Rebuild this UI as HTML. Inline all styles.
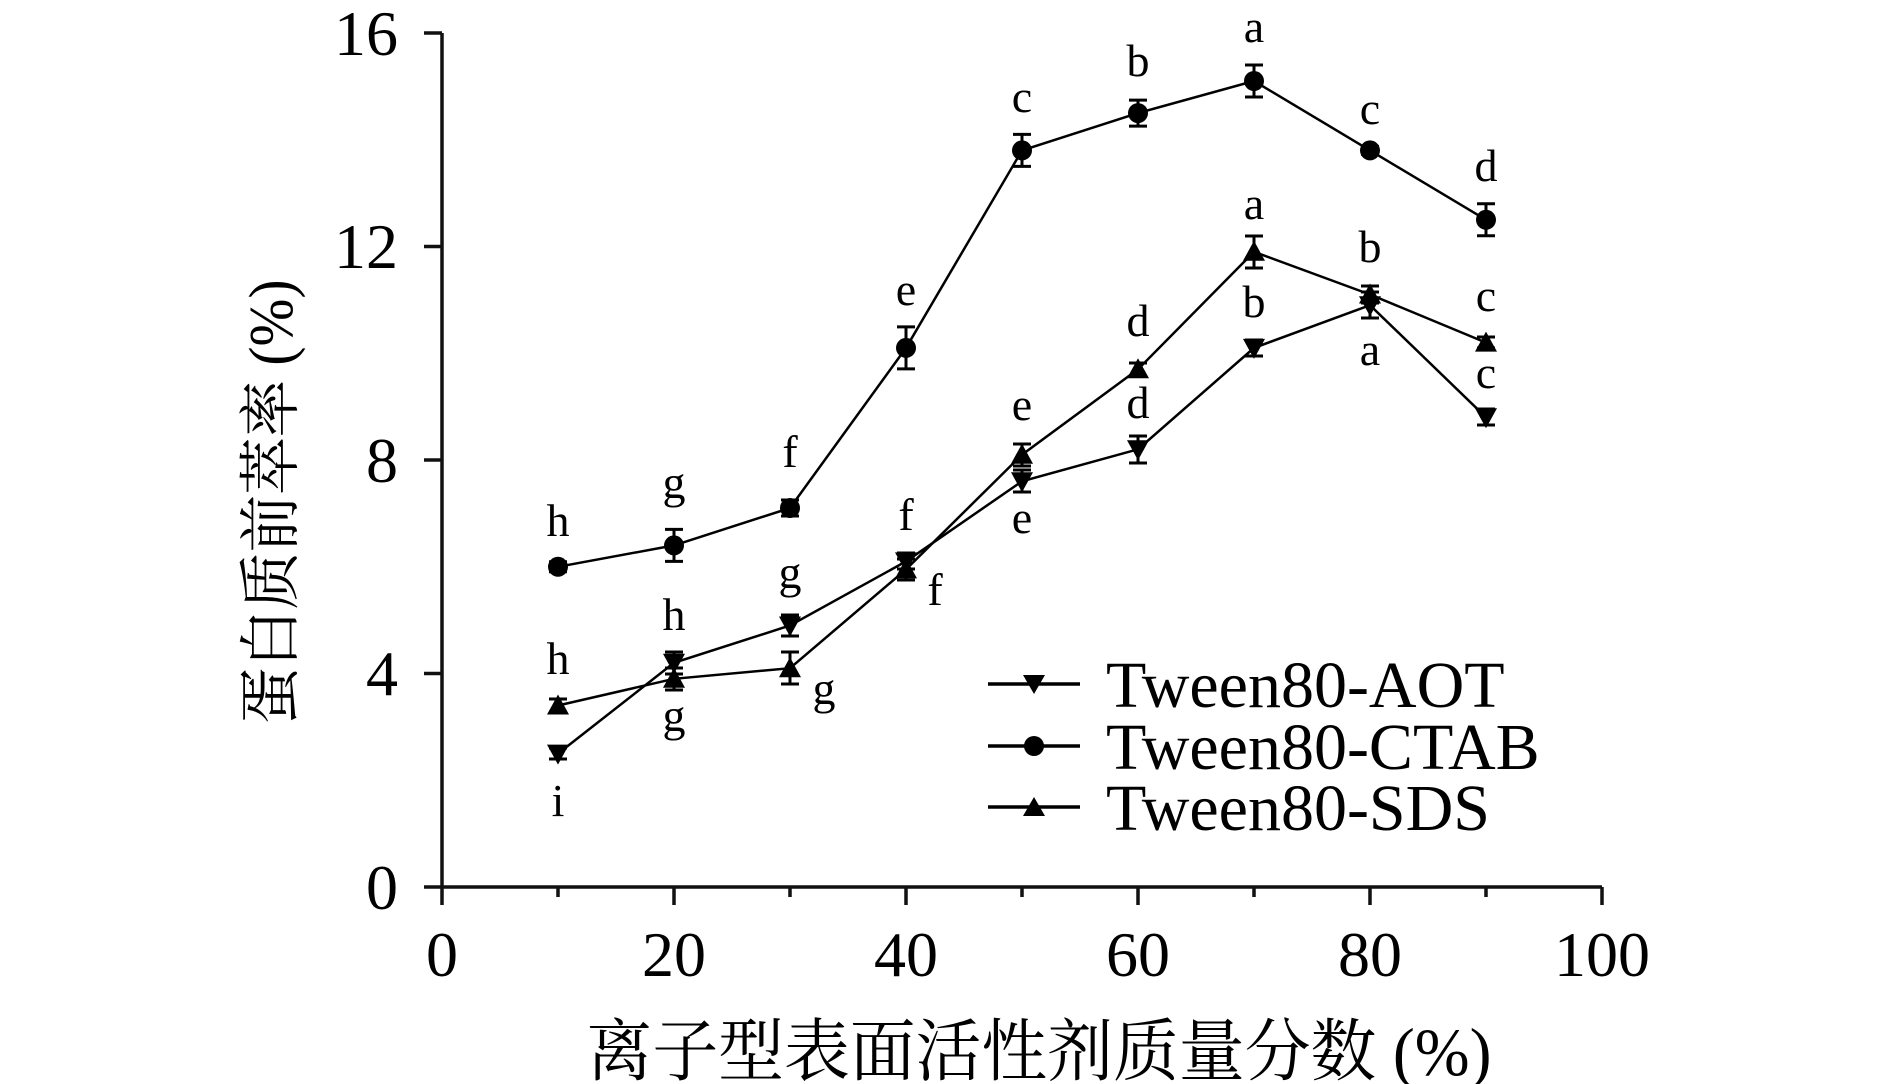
<!DOCTYPE html>
<html><head><meta charset="utf-8"><style>html,body{margin:0;padding:0;background:#fff}svg{display:block}</style></head>
<body>
<svg width="1890" height="1084" viewBox="0 0 1890 1084" xmlns="http://www.w3.org/2000/svg" font-family="'Liberation Serif','Noto Serif CJK SC',serif" fill="#000">
<g stroke="#111" stroke-width="3.5" fill="none">
<line x1="442" y1="33" x2="442" y2="905"/>
<line x1="424" y1="887" x2="1602" y2="887"/>
<line x1="424" y1="33" x2="442" y2="33"/>
<line x1="424" y1="246.5" x2="442" y2="246.5"/>
<line x1="424" y1="460" x2="442" y2="460"/>
<line x1="424" y1="673.5" x2="442" y2="673.5"/>
<line x1="674" y1="887" x2="674" y2="905"/>
<line x1="906" y1="887" x2="906" y2="905"/>
<line x1="1138" y1="887" x2="1138" y2="905"/>
<line x1="1370" y1="887" x2="1370" y2="905"/>
<line x1="1602" y1="887" x2="1602" y2="905"/>
<line x1="558" y1="887" x2="558" y2="897"/>
<line x1="790" y1="887" x2="790" y2="897"/>
<line x1="1022" y1="887" x2="1022" y2="897"/>
<line x1="1254" y1="887" x2="1254" y2="897"/>
<line x1="1486" y1="887" x2="1486" y2="897"/>
</g>
<g font-size="64" text-anchor="end">
<text x="398" y="55">16</text>
<text x="398" y="268">12</text>
<text x="398" y="482">8</text>
<text x="398" y="695">4</text>
<text x="398" y="909">0</text>
</g>
<g font-size="64" text-anchor="middle">
<text x="442" y="976">0</text>
<text x="674" y="976">20</text>
<text x="906" y="976">40</text>
<text x="1138" y="976">60</text>
<text x="1370" y="976">80</text>
<text x="1602" y="976">100</text>
</g>
<text x="1039" y="1075" font-size="68" text-anchor="middle" textLength="905" lengthAdjust="spacingAndGlyphs">离子型表面活性剂质量分数 (%)</text>
<text transform="translate(292,502) rotate(-90)" font-size="62" text-anchor="middle" textLength="445" lengthAdjust="spacingAndGlyphs">蛋白质前萃率 (%)</text>

<g stroke="#000" stroke-width="2.5" fill="none">
<polyline points="558,566.8 674,545.4 790,508 906,347.9 1022,150.4 1138,113.1 1254,81 1370,150.4 1486,219.8"/>
<polyline points="558,705.5 674,678.8 790,668.2 906,569.4 1022,454.7 1138,369.3 1254,251.8 1370,294.5 1486,342.6"/>
<polyline points="558,753.6 674,662.8 790,625.5 906,561.4 1022,481.3 1138,449.3 1254,347.9 1370,305.2 1486,417.3"/>
</g>
<g stroke="#000" stroke-width="3" fill="none">
<path d="M558,561.8V571.8M549,561.8H567M549,571.8H567
M674,529.4V561.4M665,529.4H683M665,561.4H683
M790,500V516M781,500H799M781,516H799
M906,326.9V368.9M897,326.9H915M897,368.9H915
M1022,134.4V166.4M1013,134.4H1031M1013,166.4H1031
M1138,100.1V126.1M1129,100.1H1147M1129,126.1H1147
M1254,65V97M1245,65H1263M1245,97H1263
M1370,146.4V154.4M1361,146.4H1379M1361,154.4H1379
M1486,203.8V235.8M1477,203.8H1495M1477,235.8H1495"/>
<path d="M558,699V712M549,699H567M549,712H567
M674,668V690M665,668H683M665,690H683
M790,652V684M781,652H799M781,684H799
M906,559V580M897,559H915M897,580H915
M1022,444V466M1013,444H1031M1013,466H1031
M1138,363V376M1129,363H1147M1129,376H1147
M1254,236V268M1245,236H1263M1245,268H1263
M1370,286V303M1361,286H1379M1361,303H1379
M1486,337V348M1477,337H1495M1477,348H1495"/>
<path d="M558,748V759M549,748H567M549,759H567
M674,652V674M665,652H683M665,674H683
M790,615V636M781,615H799M781,636H799
M906,553V569M897,553H915M897,569H915
M1022,470V492M1013,470H1031M1013,492H1031
M1138,436V463M1129,436H1147M1129,463H1147
M1254,340V356M1245,340H1263M1245,356H1263
M1370,292V318M1361,292H1379M1361,318H1379
M1486,409V425M1477,409H1495M1477,425H1495"/>
</g>
<g>
<circle cx="558" cy="566.8" r="10"/><circle cx="674" cy="545.4" r="10"/><circle cx="790" cy="508" r="10"/><circle cx="906" cy="347.9" r="10"/><circle cx="1022" cy="150.4" r="10"/><circle cx="1138" cy="113.1" r="10"/><circle cx="1254" cy="81" r="10"/><circle cx="1370" cy="150.4" r="10"/><circle cx="1486" cy="219.8" r="10"/>
<polygon points="558,694.5 547,714.5 569,714.5"/><polygon points="674,667.8 663,687.8 685,687.8"/><polygon points="790,657.2 779,677.2 801,677.2"/><polygon points="906,558.4 895,578.4 917,578.4"/><polygon points="1022,443.7 1011,463.7 1033,463.7"/><polygon points="1138,358.3 1127,378.3 1149,378.3"/><polygon points="1254,240.8 1243,260.8 1265,260.8"/><polygon points="1370,283.5 1359,303.5 1381,303.5"/><polygon points="1486,331.6 1475,351.6 1497,351.6"/>
<polygon points="558,764.6 547,744.6 569,744.6"/><polygon points="674,673.8 663,653.8 685,653.8"/><polygon points="790,636.5 779,616.5 801,616.5"/><polygon points="906,572.4 895,552.4 917,552.4"/><polygon points="1022,492.3 1011,472.3 1033,472.3"/><polygon points="1138,460.3 1127,440.3 1149,440.3"/><polygon points="1254,358.9 1243,338.9 1265,338.9"/><polygon points="1370,316.2 1359,296.2 1381,296.2"/><polygon points="1486,428.3 1475,408.3 1497,408.3"/>
</g>
<g font-size="46" text-anchor="middle">
<text x="558" y="536">h</text><text x="674" y="498">g</text><text x="790" y="467">f</text><text x="906" y="305">e</text><text x="1022" y="112">c</text><text x="1138" y="76">b</text><text x="1254" y="42">a</text><text x="1370" y="124">c</text><text x="1486" y="181">d</text>
<text x="558" y="674">h</text><text x="674" y="630">h</text><text x="790" y="588">g</text><text x="906" y="530">f</text><text x="1022" y="420">e</text><text x="1138" y="336">d</text><text x="1254" y="219">a</text><text x="1370" y="262">b</text><text x="1486" y="311">c</text>
<text x="558" y="816">i</text><text x="674" y="731">g</text><text x="824" y="704">g</text><text x="935" y="605">f</text><text x="1022" y="533">e</text><text x="1138" y="418">d</text><text x="1254" y="317">b</text><text x="1370" y="365">a</text><text x="1486" y="388">c</text>
</g>
<g stroke="#000" stroke-width="3.5">
<line x1="988" y1="684" x2="1080" y2="684"/>
<line x1="988" y1="746" x2="1080" y2="746"/>
<line x1="988" y1="807" x2="1080" y2="807"/>
</g>
<polygon points="1034,694 1023,675 1045,675"/>
<circle cx="1034" cy="746" r="10"/>
<polygon points="1034,797 1023,816 1045,816"/>
<g font-size="66">
<text x="1106" y="707">Tween80-AOT</text>
<text x="1106" y="769">Tween80-CTAB</text>
<text x="1106" y="830">Tween80-SDS</text>
</g>
</svg>
</body></html>
